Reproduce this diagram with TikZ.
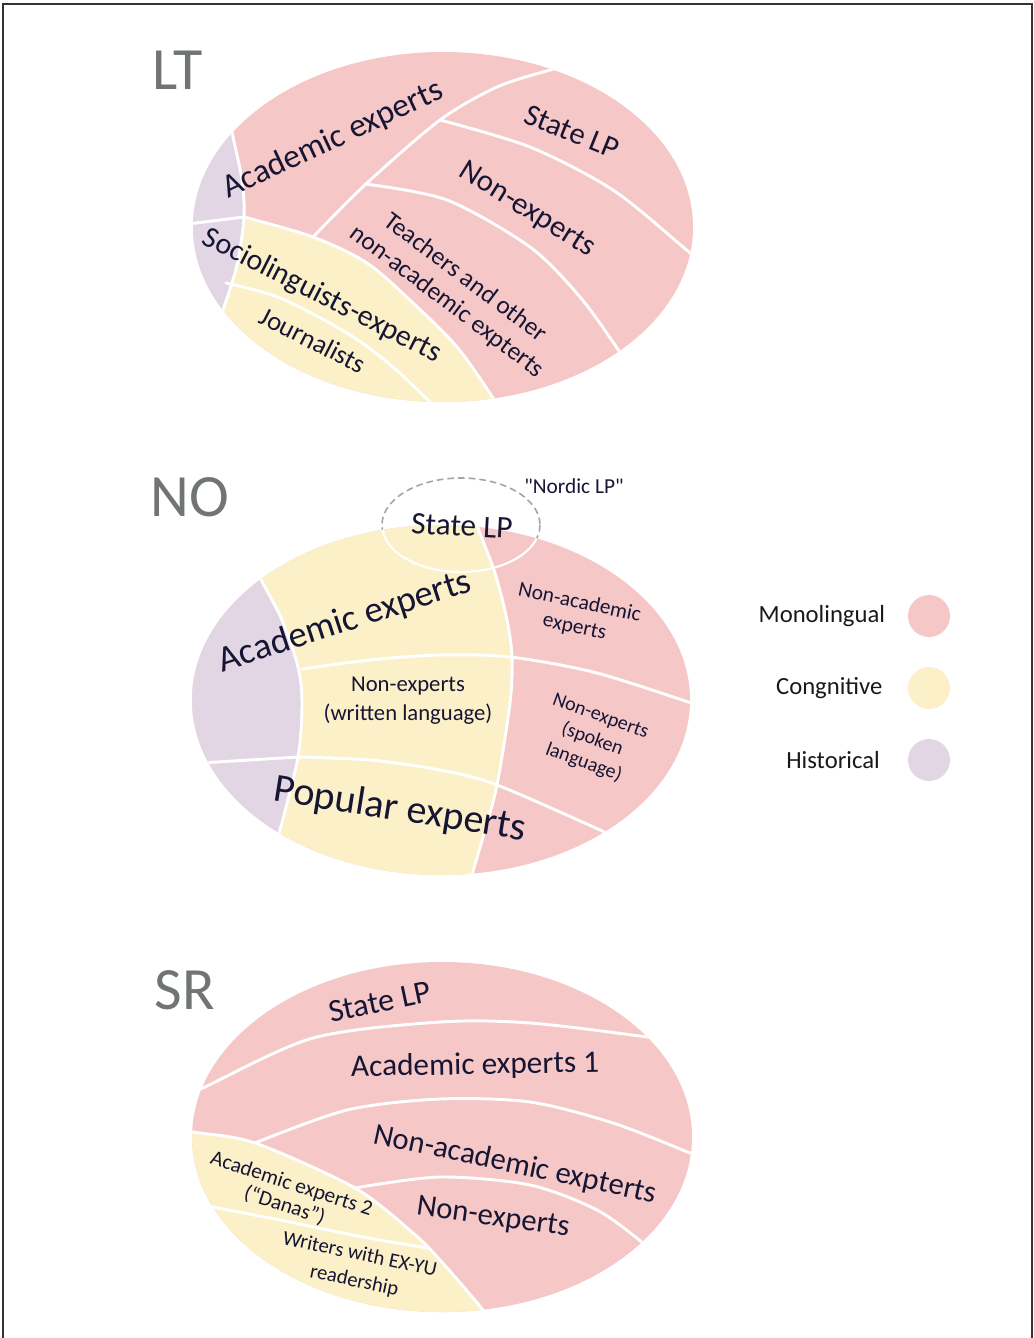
\documentclass[tikz,border=0pt]{standalone}
\usepackage{fontspec}
\setmainfont{Carlito}
\newfontfamily\plainquotes{Carlito}[Ligatures=TeXOff]
\usetikzlibrary{positioning}

\definecolor{mono}{RGB}{245,199,199}
\definecolor{cogn}{RGB}{251,240,199}
\definecolor{hist}{RGB}{226,213,228}
\definecolor{ink}{RGB}{22,22,52}
\definecolor{titlegrey}{RGB}{112,116,117}
\definecolor{dashgrey}{RGB}{165,165,165}

\newcommand\fsz[2]{\fontsize{#1}{#2}\selectfont}

\tikzset{
  divide/.style = {white, line width=2.2pt, line join=round, line cap=round},
  title/.style  = {text=titlegrey, font=\fsz{45}{50}, inner sep=0},
  lbl/.style    = {text=ink, inner sep=0, align=center},
  legtxt/.style = {text=black!90, font=\fsz{18.5}{22}, inner sep=0},
  dot/.style    = {circle, minimum size=31.5pt, inner sep=0, outer sep=0},
}

\begin{document}
\begin{tikzpicture}[x=0.75pt, y=-0.75pt]
  \useasboundingbox (0,0) rectangle (1034,1338);
  \draw[line width=1.5pt, black!80] (3,1345) -- (3,4) -- (1032,4) -- (1032,1345);

  % LT
  \node[title] (ltT) at (178,70) {LT};
  \begin{scope}
    \clip (443,227) ellipse [x radius=250, y radius=175];
    \fill[mono] (150,30) rectangle (720,430);
    \fill[cogn] (150,430) -- (150,217) -- plot[smooth] coordinates {(244,217) (313,237) (367,263) (413,303) (457,347) (493,398) (510,430)} -- cycle;
    \fill[hist] (150,100) -- plot[smooth] coordinates {(228,112) (233,137) (242,180) (244,217) (237,265) (223,310) (212,340)} -- (150,340) -- cycle;
    \draw[divide] plot[smooth] coordinates {(228,112) (233,137) (242,180) (244,217) (237,265) (223,310) (212,340)};
    \draw[divide] (180,225) -- (244,217);
    \draw[divide] plot[smooth] coordinates {(244,217) (313,237) (367,263) (413,303) (457,347) (493,398) (510,430)};
    \draw[divide] plot[smooth] coordinates {(226,283) (280,298) (347,333) (393,367) (440,412)};
    \draw[divide] plot[smooth] coordinates {(313,237) (367,183) (440,120) (497,87) (550,70) (580,62)};
    \draw[divide] plot[smooth] coordinates {(440,120) (530,147) (613,190) (683,247) (700,262)};
    \draw[divide] plot[smooth] coordinates {(365,184) (447,200) (530,247) (580,297) (617,348) (630,370)};
  \end{scope}
  \node[lbl, font=\fsz{25}{30}, rotate=25]  (ltAcad)  at (333,140) {Academic experts};
  \node[lbl, font=\fsz{23}{28}, rotate=-22] (ltState) at (572,132) {State LP};
  \node[lbl, font=\fsz{23}{28}, rotate=-32] (ltNon)   at (527,210) {Non-experts};
  \node[lbl, font=\fsz{19}{22.5}, rotate=-37] (ltTeach) at (456,290) {Teachers and other\\non-academic expterts};
  \node[lbl, font=\fsz{22.5}{27}, rotate=-27] (ltSocio) at (322,296) {Sociolinguists-experts};
  \node[lbl, font=\fsz{20}{24}, rotate=-27] (ltJourn) at (313,340) {Journalists};

  % NO
  \node[title] (noT) at (190,497) {NO};
  \draw[dashgrey, line width=1.2pt, dash pattern=on 5pt off 3pt] (461,525) ellipse [x radius=79, y radius=47];
  \begin{scope}
    \clip (441,700) ellipse [x radius=249, y radius=175];
    \fill[mono] (150,500) rectangle (720,900);
    \fill[cogn] (150,900) -- (150,510) -- plot[smooth] coordinates {(474,512) (478,528) (495,573) (507,620) (512,657) (510,703) (497,785) (483,837) (472,875) (468,892)} -- cycle;
    \fill[hist] (150,550) -- plot[smooth] coordinates {(252,562) (260,578) (282,620) (298,667) (302,703) (298,757) (280,830) (274,850)} -- (150,850) -- cycle;
    \draw[divide] plot[smooth] coordinates {(252,562) (260,578) (282,620) (298,667) (302,703) (298,757) (280,830) (274,850)};
    \draw[divide] (185,764) -- (298,757);
    \draw[divide] plot[smooth] coordinates {(474,512) (478,528) (495,573) (507,620) (512,657) (510,703) (497,785) (483,837) (472,875) (468,892)};
    \draw[divide] plot[smooth] coordinates {(302,669) (370,660) (440,655) (510,657) (597,673) (700,706)};
    \draw[divide] plot[smooth] coordinates {(298,757) (370,760) (440,770) (497,785) (600,830) (625,843)};
    \draw[divide, line width=1.6pt] (461,525) ellipse [x radius=79, y radius=47];
  \end{scope}
  \node[lbl, font=\plainquotes\fsz{16}{19}] (noNordic) at (574,486) {"Nordic LP"};
  \node[lbl, font=\fsz{23.5}{28}, rotate=-3] (noState) at (462,526) {State LP};
  \node[lbl, font=\fsz{27.5}{32}, rotate=18] (noAcad) at (345,622) {Academic experts};
  \node[lbl, font=\fsz{16}{18.5}, rotate=-12] (noNonAc) at (577,615) {Non-academic\\experts};
  \node[lbl, font=\fsz{17}{22}] (noWritten) at (408,701) {Non-experts\\(written language)};
  \node[lbl, font=\fsz{15}{18.5}, rotate=-20] (noSpoken) at (592,740) {Non-experts\\(spoken\\language)};
  \node[lbl, font=\fsz{30}{34}, rotate=-9] (noPop) at (400,810) {Popular experts};

  % legend
  \node[dot, fill=mono] (monoDot) at (929,616) {};
  \node[dot, fill=cogn] (cognDot) at (929,688) {};
  \node[dot, fill=hist] (histDot) at (929,760) {};
  \node[legtxt, left=17pt of monoDot] (monoTxt) {Monolingual};
  \node[legtxt, left=19pt of cognDot] (cognTxt) {Congnitive};
  \node[legtxt, left=21pt of histDot] (histTxt) {Historical};

  % SR
  \node[title] (srT) at (185,990) {SR};
  \begin{scope}
    \clip (442,1137) ellipse [x radius=250, y radius=175];
    \fill[mono] (150,950) rectangle (720,1330);
    \fill[cogn] (150,1330) -- (150,1128) -- plot[smooth] coordinates {(176,1128) (193,1132) (255,1143) (355,1188) (413,1233) (440,1260) (483,1310) (495,1330)} -- cycle;
    \draw[divide] plot[smooth] coordinates {(176,1128) (193,1132) (255,1143) (355,1188) (413,1233) (440,1260) (483,1310) (495,1330)};
    \draw[divide] plot[smooth] coordinates {(190,1094) (205,1087) (313,1038) (440,1022) (530,1023) (647,1037) (670,1042)};
    \draw[divide] plot[smooth] coordinates {(255,1143) (347,1110) (440,1099) (530,1102) (613,1123) (690,1153) (705,1160)};
    \draw[divide] plot[smooth] coordinates {(355,1188) (440,1177) (530,1185) (597,1210) (643,1243) (655,1255)};
    \draw[divide] plot[smooth] coordinates {(195,1203) (213,1207) (280,1220) (363,1237) (428,1248)};
  \end{scope}
  \node[lbl, font=\fsz{24}{28}, rotate=12] (srState) at (380,1002) {State LP};
  \node[lbl, font=\fsz{23.5}{28}, rotate=1] (srAcad) at (475,1066) {Academic experts 1};
  \node[lbl, font=\fsz{23}{28}, rotate=-12] (srNonAc) at (515,1165) {Non-academic expterts};
  \node[lbl, font=\fsz{23}{28}, rotate=-8] (srNon) at (493,1218) {Non-experts};
  \node[lbl, font=\fsz{16}{17}, rotate=-18] (srDanas) at (288,1195) {Academic experts 2\\(“Danas”)};
  \node[lbl, font=\fsz{15.5}{20}, rotate=-12] (srWriters) at (357,1268) {Writers with EX-YU\\readership};
\end{tikzpicture}
\end{document}
